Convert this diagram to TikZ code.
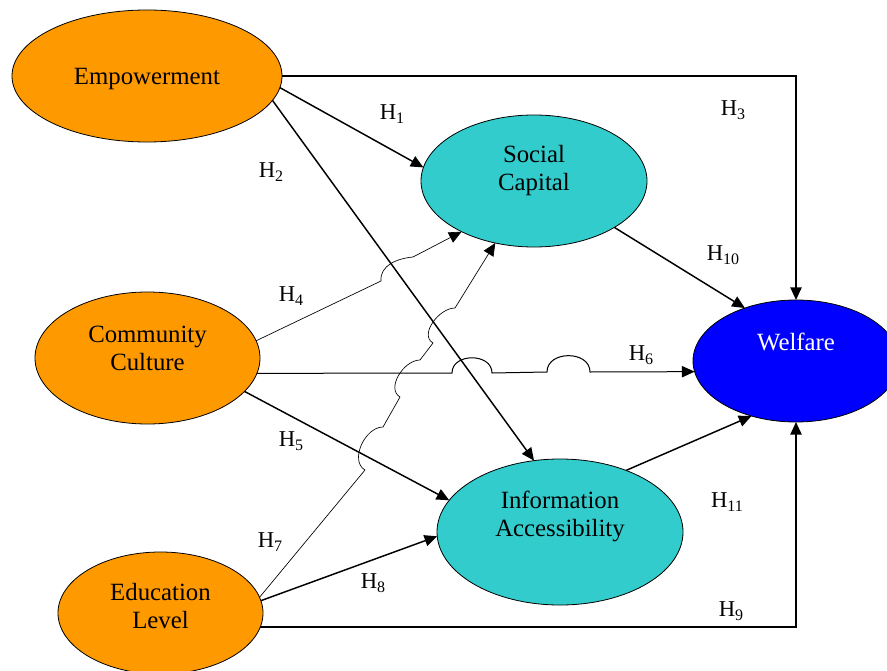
\documentclass[tikz,border=0pt]{standalone}
\usepackage{fontspec}
\setmainfont{Liberation Serif}
\usetikzlibrary{shapes.geometric,arrows.meta}
\definecolor{exogen}{HTML}{FF9900}
\definecolor{mediator}{HTML}{33CCCC}
\definecolor{endogen}{HTML}{0000FF}
\newcommand{\hyp}[1]{H\raisebox{-2.5pt}{\fontsize{12}{12}\selectfont #1}}

\begin{document}
\begin{tikzpicture}[x=0.75pt,y=-0.75pt,
  latent/.style={ellipse,draw=black,line width=0.6pt,inner sep=0pt,outer sep=0pt},
  vname/.style={align=center,inner sep=0pt,font=\fontsize{18.6}{21}\selectfont},
  hlabel/.style={inner sep=0pt,font=\fontsize{17}{20}\selectfont},
  link/.style={line width=1.1pt,-{Triangle[length=9.5pt,width=8.5pt]}},
  thinlink/.style={line width=0.5pt,-{Triangle[length=9.5pt,width=8.5pt]}},
  midlink/.style={line width=0.75pt,-{Triangle[length=9.5pt,width=8.5pt]}}]
\useasboundingbox (0,0) rectangle (887,670);
\node[latent,fill=exogen,minimum width=202.5pt,minimum height=99pt,
  label={[vname,name=emp-t,yshift=-2pt]center:Empowerment}] (emp) at (147,76) {};
\node[latent,fill=exogen,minimum width=168.75pt,minimum height=99pt,
  label={[vname,name=cul-t,yshift=7.5pt]center:Community\\Culture}] (cul) at (147.5,358) {};
\node[latent,fill=exogen,minimum width=153.75pt,minimum height=91.5pt,
  label={[vname,name=edu-t,yshift=5pt]center:Education\\Level}] (edu) at (160.5,613) {};
\node[latent,fill=mediator,minimum width=169.5pt,minimum height=99pt,
  label={[vname,name=soc-t,yshift=8pt]center:Social\\Capital}] (soc) at (534,181) {};
\node[latent,fill=mediator,minimum width=184.5pt,minimum height=109.5pt,
  label={[vname,name=inf-t,yshift=12pt]center:Information\\Accessibility}] (inf) at (560,532) {};
\node[latent,fill=endogen,minimum width=154.5pt,minimum height=91.5pt,
  label={[vname,name=wel-t,yshift=14pt,text=white]center:Welfare}] (wel) at (796,361) {};

\draw[link] (emp.-5) -- (soc.173);
\draw[link] (emp.-11) -- (inf.110);
\draw[link] (emp.east) -| (wel.north);
\draw[thinlink] (cul.9) -- (381,281) to[out=95,in=185] (413,257) -- (soc.-145);
\draw[link] (cul.-19) -- (inf.164);
\draw[midlink] (cul.-8) -- (452,373) to[out=90,in=90,looseness=1.3] (492,373)
  -- (547,372) to[out=90,in=90,looseness=1.3] (590,372) -- (wel.-174);
\draw[thinlink] (edu.9) -- (365,470) to[out=150,in=180] (383,427) -- (400,397)
  to[out=150,in=180] (420,360) -- (433,343) to[out=150,in=180] (455,308) -- (soc.-122);
\draw[link] (edu.7) -- (inf.-178);
\draw[link] (edu.-8) -| (wel.south);
\draw[link] (soc.-30) -- (wel.134);
\draw[link] (inf.43) -- (wel.-129);

\node[hlabel] (h1) at (392,114) {\hyp{1}};
\node[hlabel] (h2) at (271,172) {\hyp{2}};
\node[hlabel] (h3) at (733,110) {\hyp{3}};
\node[hlabel] (h4) at (291,296) {\hyp{4}};
\node[hlabel] (h5) at (291,441) {\hyp{5}};
\node[hlabel] (h6) at (641,355) {\hyp{6}};
\node[hlabel] (h7) at (270,542) {\hyp{7}};
\node[hlabel] (h8) at (373,583) {\hyp{8}};
\node[hlabel] (h9) at (731,611) {\hyp{9}};
\node[hlabel] (h10) at (723,255) {\hyp{10}};
\node[hlabel] (h11) at (727,502) {\hyp{11}};
\end{tikzpicture}
\end{document}
